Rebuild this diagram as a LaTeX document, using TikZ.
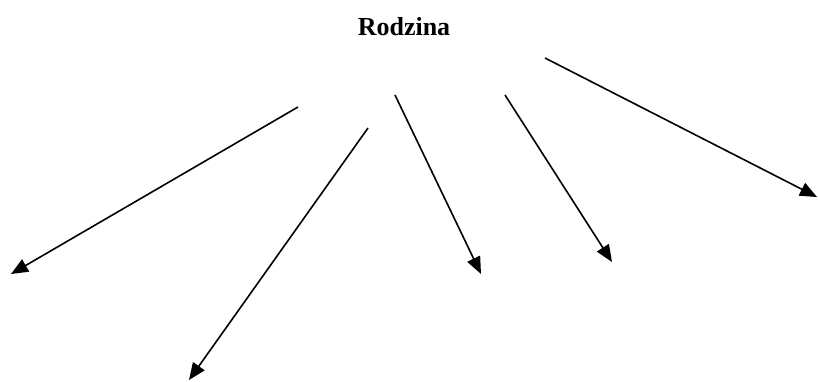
\documentclass[tikz,border=0pt]{standalone}
\usepackage{fontspec}
\setmainfont{Liberation Serif}
\usetikzlibrary{arrows.meta}
\begin{document}
\begin{tikzpicture}[x=1pt,y=-1pt,
  conn/.style={line width=1.6pt,-{Triangle[length=17pt,width=14pt]}},
  title/.style={font=\fontsize{26}{30}\selectfont\bfseries,inner sep=0pt,anchor=base}]
\useasboundingbox (0,0) rectangle (818,381);
\node[title] (rodzina) at (404,35) {Rodzina};
\coordinate (s1) at (298,107);
\coordinate (e1) at (11,274);
\coordinate (s2) at (368,128);
\coordinate (e2) at (189,380);
\coordinate (s3) at (395,95);
\coordinate (e3) at (481,274);
\coordinate (s4) at (505,95);
\coordinate (e4) at (612,262);
\coordinate (s5) at (545,58);
\coordinate (e5) at (817,197);
\draw[conn] (s1) -- (e1);
\draw[conn] (s2) -- (e2);
\draw[conn] (s3) -- (e3);
\draw[conn] (s4) -- (e4);
\draw[conn] (s5) -- (e5);
\end{tikzpicture}
\end{document}
